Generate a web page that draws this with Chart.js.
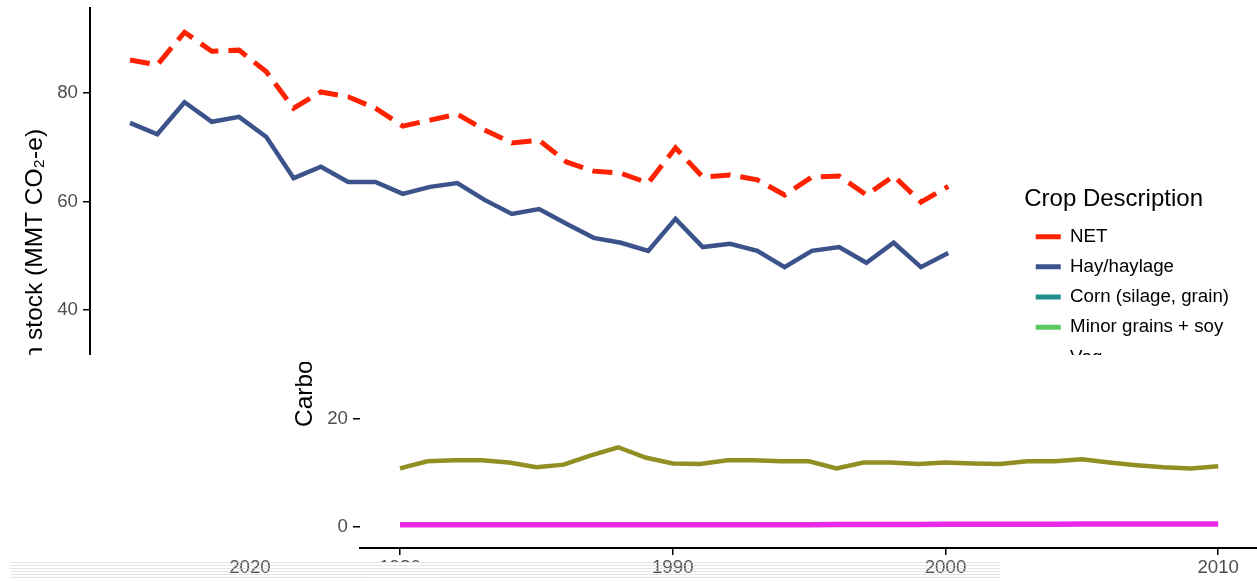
<!DOCTYPE html>
<html>
<head>
<meta charset="utf-8">
<title>Carbon stock by crop</title>
<script src="https://cdn.jsdelivr.net/npm/chart.js@4.4.1/dist/chart.umd.min.js"></script>
<style>
  html, body { margin: 0; padding: 0; width: 1257px; height: 581px; overflow: hidden; background: #fff; }
  .view { position: absolute; overflow: hidden; }
  .view canvas { position: absolute; }
  #topView { left: 0; top: 0; width: 1257px; height: 355px; }
  #topView canvas { left: 0; top: 0; }
  #bottomView { left: 290px; top: 362px; width: 967px; height: 219px; }
  #bottomView canvas { left: -20px; top: -362px; }
  #stripView { left: 10px; top: 555px; width: 280px; height: 26px; }
  #stripView canvas { left: -981px; top: -555px; }
  .scan { position: absolute; left: 10px; top: 562px; width: 990px; height: 18px; pointer-events: none;
          background: repeating-linear-gradient(to bottom, rgba(205,205,205,0.55) 0 1px, rgba(255,255,255,0) 1px 3px); }
  .scan.solid { left: 372px; width: 62px;
          background: repeating-linear-gradient(to bottom, #e6e6e6 0 1px, #fff 1px 3px); }
</style>
</head>
<body>
<div class="view" id="topView"><canvas id="topChart" width="1257" height="581"></canvas></div>
<div class="view" id="bottomView"><canvas id="bottomChart" width="1257" height="581"></canvas></div>
<div class="view" id="stripView"><canvas id="stripChart" width="1257" height="581"></canvas></div>
<div class="scan"></div>
<div class="scan solid"></div>
<script>
// values (MMT CO2-e)
const years = [1980, 1981, 1982, 1983, 1984, 1985, 1986, 1987, 1988, 1989,
               1990, 1991, 1992, 1993, 1994, 1995, 1996, 1997, 1998, 1999,
               2000, 2001, 2002, 2003, 2004, 2005, 2006, 2007, 2008, 2009, 2010];
const netStock = [86.1, 85.2, 91.2, 87.7, 87.9, 83.9, 77.2, 80.2, 79.3, 77.2,
                  73.9, 75.0, 76.1, 73.2, 70.8, 71.3, 67.3, 65.6, 65.2, 63.4,
                  69.9, 64.5, 64.9, 64.0, 61.2, 64.5, 64.7, 61.2, 64.7, 59.9, 62.8];
const hayStock = [74.5, 72.4, 78.3, 74.7, 75.6, 71.9, 64.3, 66.4, 63.6, 63.6,
                  61.4, 62.7, 63.4, 60.3, 57.7, 58.6, 55.9, 53.3, 52.4, 50.9,
                  56.8, 51.6, 52.2, 50.9, 47.9, 50.9, 51.6, 48.7, 52.4, 47.9, 50.5];
const cornStock = [10.8, 12.1, 12.3, 12.3, 11.9, 11.0, 11.5, 13.2, 14.7, 12.8,
                   11.7, 11.6, 12.3, 12.3, 12.1, 12.1, 10.8, 11.9, 11.9, 11.6,
                   11.9, 11.7, 11.6, 12.1, 12.1, 12.5, 11.9, 11.4, 11.0, 10.8, 11.2];
const wetlandStock = [0.4, 0.4, 0.4, 0.4, 0.4, 0.4, 0.4, 0.4, 0.4, 0.4,
                      0.4, 0.4, 0.4, 0.4, 0.4, 0.4, 0.45, 0.45, 0.45, 0.45,
                      0.5, 0.5, 0.5, 0.5, 0.5, 0.55, 0.55, 0.55, 0.55, 0.55, 0.55];

const xTicks = [1980, 1990, 2000, 2010, 2020];
const yTicks = [0, 20, 40, 60, 80];

const legendNames = ['NET', 'Hay/haylage', 'Corn (silage, grain)', 'Minor grains + soy', 'Veg', 'Wetland'];
const legendColors = ['#ff2200', '#3b528b', '#21908c', '#5dc863', '#fde725', '#e82ae8'];

const font_family = '"Liberation Sans", Arial, sans-serif';
Chart.defaults.font.family = font_family;

const points = vals => years.map((yr, i) => ({ x: yr, y: vals[i] }));

function buildChart(canvasId, showYLine) {
    const options = {
        responsive: false,
        animation: false,
        layout: { padding: { top: 8, right: 18, left: 0, bottom: 0 } },
        elements: { point: { radius: 0 }, line: { tension: 0 } },
        scales: {
            x: {
                type: 'linear',
                min: 1978.533,
                max: 2012.787,
                afterBuildTicks: scale => { scale.ticks = xTicks.map(v => ({ value: v })); },
                afterFit: scale => {
                    scale.height = 33;
                    scale.paddingLeft = 0;
                    scale.paddingRight = 0;
                },
                ticks: {
                    autoSkip: false,
                    maxRotation: 0,
                    padding: 2,
                    color: '#4d4d4d',
                    font: { size: 18.7 },
                    callback: v => String(v)
                },
                grid: { display: true, drawOnChartArea: false, drawTicks: true, tickLength: 7, color: '#000', lineWidth: 1.5 },
                border: { display: true, color: '#000', width: 2 }
            },
            y: {
                min: -3.87,
                max: 95.67,
                afterBuildTicks: scale => { scale.ticks = yTicks.map(v => ({ value: v })); },
                afterFit: scale => {
                    scale.width = 90;
                    scale.paddingTop = 0;
                    scale.paddingBottom = 0;
                },
                ticks: {
                    padding: 5,
                    color: '#4d4d4d',
                    font: { size: 18.7 },
                    callback: v => String(v)
                },
                title: {
                    display: true,
                    text: 'Carbon stock (MMT CO₂-e)',
                    color: '#000',
                    font: { size: 24.5 },
                    padding: { top: 21, bottom: 0 }
                },
                grid: { display: true, drawOnChartArea: false, drawTicks: true, tickLength: 7, color: '#000', lineWidth: 1.5 },
                border: { display: showYLine, color: '#000', width: 2 }
            }
        },
        plugins: {
            tooltip: { enabled: false },
            legend: {
                position: 'right',
                align: 'start',
                title: {
                    display: true,
                    text: 'Crop Description',
                    color: '#000',
                    position: 'start',
                    font: { size: 24 },
                    padding: { top: 179, bottom: 0 }
                },
                labels: {
                    boxWidth: 25,
                    boxHeight: 5,
                    padding: 11.5,
                    color: '#000',
                    font: { size: 18.7 },
                    generateLabels: () => legendNames.map((name, i) => ({
                        text: name,
                        fillStyle: legendColors[i],
                        strokeStyle: legendColors[i],
                        lineWidth: 0,
                        hidden: false,
                        datasetIndex: i
                    }))
                }
            }
        }
    };

    const config = {
        type: 'line',
        data: {
            datasets: [
                {
                    label: 'NET',
                    data: points(netStock),
                    borderColor: '#ff2200',
                    borderWidth: 5,
                    borderDash: [20, 10]
                },
                {
                    label: 'Hay/haylage',
                    data: points(hayStock),
                    borderColor: '#3b528b',
                    borderWidth: 4.5
                },
                {
                    label: 'Corn (silage, grain)',
                    data: points(cornStock),
                    borderColor: '#918e24',
                    borderWidth: 4.5
                },
                {
                    label: 'Wetland',
                    data: points(wetlandStock),
                    borderColor: '#e82ae8',
                    borderWidth: 5.5
                }
            ]
        },
        options
    };

    return new Chart(document.getElementById(canvasId), config);
}

buildChart('topChart', true);
buildChart('bottomChart', false);
buildChart('stripChart', false);
</script>
</body>
</html>
